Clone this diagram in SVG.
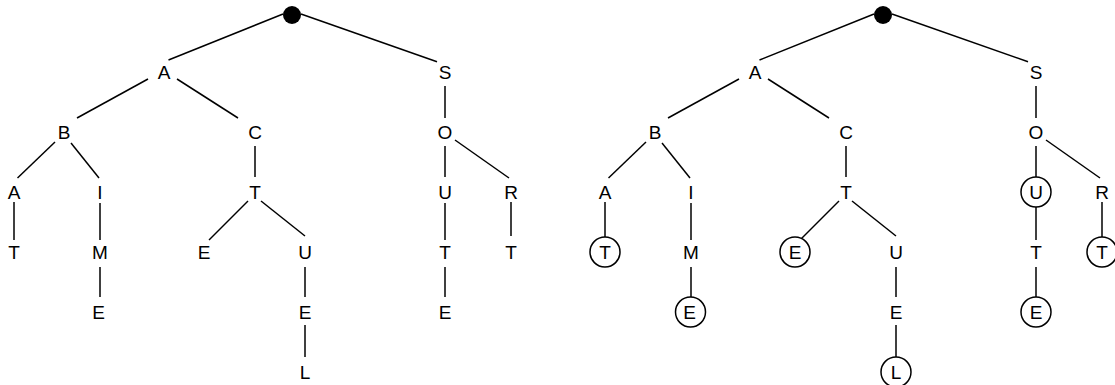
<svg xmlns="http://www.w3.org/2000/svg" width="1115" height="385" viewBox="0 0 1115 385">
<style>
.lbl{font-family:"Liberation Sans",Arial,sans-serif;font-size:19px;text-anchor:middle;fill:#000}
.edge{stroke:#000;stroke-width:1.5;fill:none;stroke-linecap:butt}
.term{fill:none;stroke:#000;stroke-width:1.5}
.dot{fill:#000}
</style>
<rect width="1115" height="385" fill="#fff"/>
<g id="tree-left">
<g id="connectors-left">
<line class="edge" x1="283" y1="14" x2="168.5" y2="60"/>
<line class="edge" x1="301" y1="14" x2="437" y2="61.7"/>
<line class="edge" x1="148" y1="79" x2="77" y2="118"/>
<line class="edge" x1="177" y1="79" x2="238" y2="118"/>
<line class="edge" x1="445" y1="86" x2="445" y2="118"/>
<line class="edge" x1="55" y1="142" x2="17.5" y2="178"/>
<line class="edge" x1="71" y1="143" x2="99" y2="178"/>
<line class="edge" x1="255" y1="146" x2="255" y2="177"/>
<line class="edge" x1="445" y1="146" x2="445" y2="177"/>
<line class="edge" x1="455" y1="140" x2="509" y2="178"/>
<line class="edge" x1="14" y1="202" x2="14" y2="240"/>
<line class="edge" x1="100" y1="203" x2="100" y2="240"/>
<line class="edge" x1="248" y1="201" x2="209" y2="240"/>
<line class="edge" x1="261" y1="201" x2="305" y2="236"/>
<line class="edge" x1="445" y1="203" x2="445" y2="240"/>
<line class="edge" x1="511" y1="202" x2="511" y2="236"/>
<line class="edge" x1="100" y1="267" x2="100" y2="297"/>
<line class="edge" x1="305" y1="267" x2="305" y2="297"/>
<line class="edge" x1="445" y1="267" x2="445" y2="297"/>
<line class="edge" x1="305" y1="325" x2="305" y2="357"/>
</g>
<g id="l-root"><circle class="dot" cx="292" cy="15" r="9"/></g>
<g id="l-A"><text class="lbl" x="164" y="79">A</text></g>
<g id="l-S"><text class="lbl" x="445" y="79">S</text></g>
<g id="l-AB"><text class="lbl" x="64" y="139">B</text></g>
<g id="l-AC"><text class="lbl" x="255" y="139">C</text></g>
<g id="l-SO"><text class="lbl" x="445" y="139">O</text></g>
<g id="l-ABA"><text class="lbl" x="14" y="199">A</text></g>
<g id="l-ABI"><text class="lbl" x="100" y="199">I</text></g>
<g id="l-ACT"><text class="lbl" x="255" y="199">T</text></g>
<g id="l-SOU"><text class="lbl" x="445" y="199">U</text></g>
<g id="l-SOR"><text class="lbl" x="511" y="199">R</text></g>
<g id="l-ABAT"><text class="lbl" x="14" y="259">T</text></g>
<g id="l-ABIM"><text class="lbl" x="100" y="259">M</text></g>
<g id="l-ACTE"><text class="lbl" x="204" y="259">E</text></g>
<g id="l-ACTU"><text class="lbl" x="305" y="259">U</text></g>
<g id="l-SOUT"><text class="lbl" x="445" y="259">T</text></g>
<g id="l-SORT"><text class="lbl" x="511" y="259">T</text></g>
<g id="l-ABIME"><text class="lbl" x="98.5" y="319">E</text></g>
<g id="l-ACTUE"><text class="lbl" x="305" y="319">E</text></g>
<g id="l-SOUTE"><text class="lbl" x="445" y="319">E</text></g>
<g id="l-ACTUEL"><text class="lbl" x="305" y="379">L</text></g>
</g>
<g id="tree-right" transform="translate(591 0)">
<g id="connectors-right">
<line class="edge" x1="283" y1="14" x2="168.5" y2="60"/>
<line class="edge" x1="301" y1="14" x2="437" y2="61.7"/>
<line class="edge" x1="148" y1="79" x2="77" y2="118"/>
<line class="edge" x1="177" y1="79" x2="238" y2="118"/>
<line class="edge" x1="445" y1="86" x2="445" y2="118"/>
<line class="edge" x1="55" y1="142" x2="17.5" y2="178"/>
<line class="edge" x1="71" y1="143" x2="99" y2="178"/>
<line class="edge" x1="255" y1="146" x2="255" y2="177"/>
<line class="edge" x1="445" y1="146" x2="445" y2="177"/>
<line class="edge" x1="455" y1="140" x2="509" y2="178"/>
<line class="edge" x1="14" y1="202" x2="14" y2="237"/>
<line class="edge" x1="100" y1="203" x2="100" y2="240"/>
<line class="edge" x1="248" y1="201" x2="210.5" y2="238.5"/>
<line class="edge" x1="261" y1="201" x2="305" y2="236"/>
<line class="edge" x1="445" y1="207" x2="445" y2="240"/>
<line class="edge" x1="511" y1="202" x2="511" y2="237"/>
<line class="edge" x1="100" y1="267" x2="100" y2="297"/>
<line class="edge" x1="305" y1="267" x2="305" y2="297"/>
<line class="edge" x1="445" y1="267" x2="445" y2="297"/>
<line class="edge" x1="305" y1="325" x2="305" y2="357"/>
</g>
<g id="r-root"><circle class="dot" cx="292" cy="15" r="9"/></g>
<g id="r-A"><text class="lbl" x="164" y="79">A</text></g>
<g id="r-S"><text class="lbl" x="445" y="79">S</text></g>
<g id="r-AB"><text class="lbl" x="64" y="139">B</text></g>
<g id="r-AC"><text class="lbl" x="255" y="139">C</text></g>
<g id="r-SO"><text class="lbl" x="445" y="139">O</text></g>
<g id="r-ABA"><text class="lbl" x="14" y="199">A</text></g>
<g id="r-ABI"><text class="lbl" x="100" y="199">I</text></g>
<g id="r-ACT"><text class="lbl" x="255" y="199">T</text></g>
<g id="r-SOU"><circle class="term" cx="445" cy="192" r="15"/><text class="lbl" x="445" y="199">U</text></g>
<g id="r-SOR"><text class="lbl" x="511" y="199">R</text></g>
<g id="r-ABAT"><circle class="term" cx="14" cy="252" r="15"/><text class="lbl" x="14" y="259">T</text></g>
<g id="r-ABIM"><text class="lbl" x="100" y="259">M</text></g>
<g id="r-ACTE"><circle class="term" cx="204" cy="252" r="15"/><text class="lbl" x="204" y="259">E</text></g>
<g id="r-ACTU"><text class="lbl" x="305" y="259">U</text></g>
<g id="r-SOUT"><text class="lbl" x="445" y="259">T</text></g>
<g id="r-SORT"><circle class="term" cx="511" cy="252" r="15"/><text class="lbl" x="511" y="259">T</text></g>
<g id="r-ABIME"><circle class="term" cx="99.5" cy="312" r="15"/><text class="lbl" x="98.5" y="319">E</text></g>
<g id="r-ACTUE"><text class="lbl" x="305" y="319">E</text></g>
<g id="r-SOUTE"><circle class="term" cx="445" cy="312" r="15"/><text class="lbl" x="445" y="319">E</text></g>
<g id="r-ACTUEL"><circle class="term" cx="305" cy="372" r="15"/><text class="lbl" x="305" y="379">L</text></g>
</g>
</svg>
